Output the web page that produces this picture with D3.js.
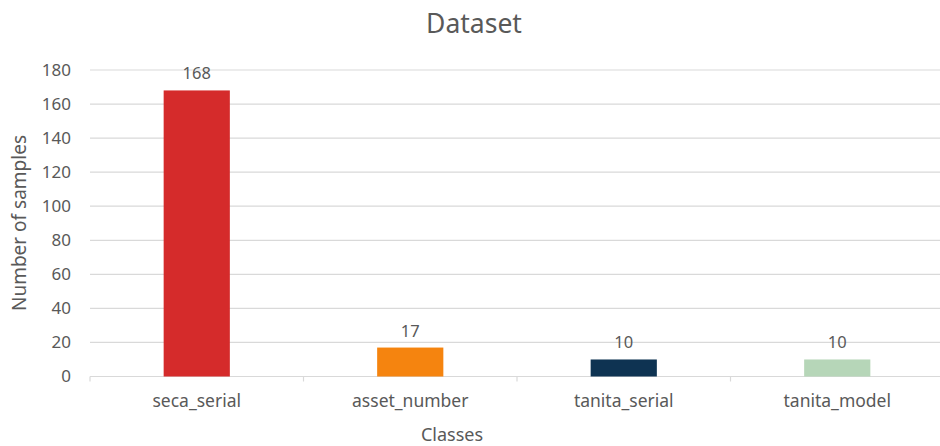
<!DOCTYPE html>
<html>
<head>
<meta charset="utf-8">
<script src="https://cdn.jsdelivr.net/npm/d3@7"></script>
<style>
  body { margin: 0; background: #fff; }
  text { font-family: "Noto Sans", sans-serif; fill: #595959; }
</style>
</head>
<body>
<div id="chart"></div>
<script>
// data
var classes = ["seca_serial", "asset_number", "tanita_serial", "tanita_model"];
var samples = [168, 17, 10, 10];
var colors = ["#d52b2b", "#f5840f", "#0e3352", "#b6d6b8"];
var yTicks = [0, 20, 40, 60, 80, 100, 120, 140, 160, 180];

var width = 940, height = 446;

var svg = d3.select("#chart").append("svg")
  .attr("width", width)
  .attr("height", height);

// scales
var x = d3.scaleBand()
  .domain(classes)
  .range([90, 944])
  .paddingInner(0.69)
  .paddingOuter(0.345);

var y = d3.scaleLinear()
  .domain([0, 180])
  .range([376.5, 70]);

// gridlines
svg.append("g")
  .selectAll("line")
  .data(yTicks)
  .enter().append("line")
  .attr("x1", 90)
  .attr("x2", 944)
  .attr("y1", function(d) { return y(d); })
  .attr("y2", function(d) { return y(d); })
  .attr("stroke", "#d9d9d9")
  .attr("stroke-width", 1.2);

// y axis labels
var yAxis = svg.append("g")
  .attr("transform", "translate(90,0)")
  .call(d3.axisLeft(y).tickValues(yTicks).tickSize(0).tickPadding(19));
yAxis.select(".domain").remove();
yAxis.selectAll("text")
  .style("font-size", "17px")
  .attr("fill", "#595959");

// category separator ticks on the 0 line
var step = x.step();
var bounds = classes.map(function(c) { return x(c) - (step - x.bandwidth()) / 2; });
svg.append("g")
  .selectAll("line")
  .data(bounds)
  .enter().append("line")
  .attr("x1", function(d) { return d; })
  .attr("x2", function(d) { return d; })
  .attr("y1", y(0))
  .attr("y2", y(0) + 5)
  .attr("stroke", "#d9d9d9")
  .attr("stroke-width", 1.2);

// bars
svg.append("g")
  .selectAll("rect")
  .data(samples)
  .enter().append("rect")
  .attr("x", function(d, i) { return x(classes[i]); })
  .attr("y", function(d) { return y(d); })
  .attr("width", x.bandwidth())
  .attr("height", function(d) { return y(0) - y(d); })
  .attr("fill", function(d, i) { return colors[i]; });

// value labels
svg.append("g")
  .selectAll("text")
  .data(samples)
  .enter().append("text")
  .attr("x", function(d, i) { return x(classes[i]) + x.bandwidth() / 2; })
  .attr("y", function(d) { return y(d) - 11; })
  .attr("text-anchor", "middle")
  .style("font-size", "16.5px")
  .text(function(d) { return d; });

// category labels
svg.append("g")
  .selectAll("text")
  .data(classes)
  .enter().append("text")
  .attr("x", function(d) { return x(d) + x.bandwidth() / 2; })
  .attr("y", 407)
  .attr("text-anchor", "middle")
  .style("font-size", "17.5px")
  .text(function(d) { return d; });

// titles
svg.append("text")
  .attr("x", 474)
  .attr("y", 33)
  .attr("text-anchor", "middle")
  .style("font-size", "26.5px")
  .text("Dataset");

svg.append("text")
  .attr("x", 452)
  .attr("y", 441)
  .attr("text-anchor", "middle")
  .style("font-size", "18px")
  .text("Classes");

svg.append("text")
  .attr("transform", "translate(26,223) rotate(-90)")
  .attr("text-anchor", "middle")
  .style("font-size", "19px")
  .text("Number of samples");
</script>
</body>
</html>
